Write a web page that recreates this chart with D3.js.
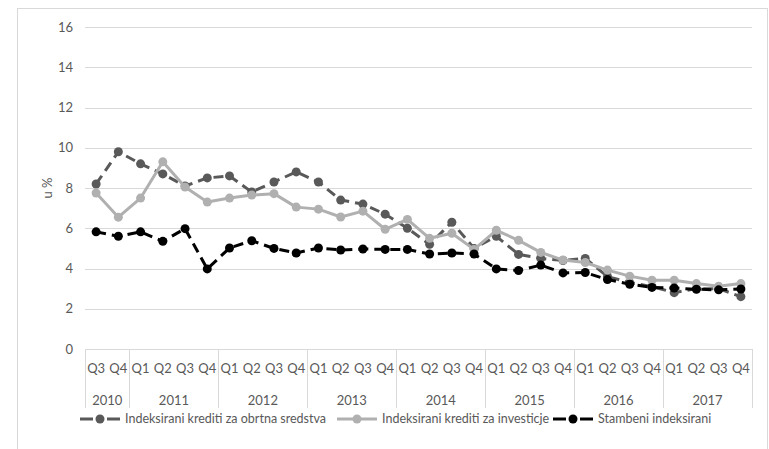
<!DOCTYPE html>
<html>
<head>
<meta charset="utf-8">
<script src="https://cdn.jsdelivr.net/npm/d3@7"></script>
<style>
  body { margin: 0; background: #fff; }
  svg { display: block; font-family: Lato, "Open Sans", sans-serif; }
</style>
</head>
<body>
<div id="chart"></div>
<script>
// quarters 2010 Q3 .. 2017 Q4
var quarters = ["Q3","Q4",
  "Q1","Q2","Q3","Q4", "Q1","Q2","Q3","Q4", "Q1","Q2","Q3","Q4", "Q1","Q2","Q3","Q4",
  "Q1","Q2","Q3","Q4", "Q1","Q2","Q3","Q4", "Q1","Q2","Q3","Q4"];
var years = ["2010","2011","2012","2013","2014","2015","2016","2017"];
var yearCounts = [2,4,4,4,4,4,4,4];

var obrtna = [8.2, 9.8, 9.2, 8.7, 8.1, 8.5, 8.6, 7.8, 8.3, 8.8,
  8.3, 7.4, 7.2, 6.7, 6.0, 5.2, 6.3, 5.0, 5.6, 4.7,
  4.5, 4.4, 4.5, 3.6, 3.3, 3.1, 2.8, 3.0, 3.0, 2.6];
var investicije = [7.75, 6.55, 7.5, 9.3, 8.05, 7.3, 7.5, 7.65, 7.72, 7.05,
  6.95, 6.56, 6.85, 5.95, 6.44, 5.5, 5.75, 4.95, 5.9, 5.4,
  4.8, 4.42, 4.3, 3.92, 3.62, 3.42, 3.42, 3.25, 3.12, 3.25];
var stambeni = [5.82, 5.6, 5.82, 5.35, 5.98, 3.98, 5.02, 5.38, 5.0, 4.77,
  5.02, 4.92, 4.97, 4.95, 4.95, 4.72, 4.77, 4.72, 3.98, 3.9,
  4.17, 3.78, 3.8, 3.45, 3.22, 3.06, 3.03, 2.97, 2.94, 2.98];
var yTicks = [0,2,4,6,8,10,12,14,16];

var series = [
  {name: "Indeksirani krediti za obrtna sredstva", values: obrtna, color: "#595959", dash: "10,6"},
  {name: "Indeksirani krediti za investicje", values: investicije, color: "#b0b0b0", dash: null},
  {name: "Stambeni indeksirani", values: stambeni, color: "#000000", dash: "10,6"}
];

var W = 769, H = 449;
var svg = d3.select("#chart").append("svg").attr("width", W).attr("height", H);

// outer frame
svg.append("rect").attr("x", 17.5).attr("y", 8.5).attr("width", 750).attr("height", 460)
  .attr("fill", "none").attr("stroke", "#d9d9d9");

var x = d3.scaleBand().domain(d3.range(quarters.length)).range([85, 752]);
var y = d3.scaleLinear().domain([0, 16]).range([349, 27]);
var cx = function(i) { return x(i) + x.bandwidth() / 2; };

// gridlines
svg.append("g").selectAll("line").data(yTicks.filter(function(d) { return d > 0; }))
  .enter().append("line")
  .attr("x1", 85).attr("x2", 752)
  .attr("y1", function(d) { return Math.round(y(d)) + 0.5; })
  .attr("y2", function(d) { return Math.round(y(d)) + 0.5; })
  .attr("stroke", "#d9d9d9").attr("stroke-width", 1);

// y axis labels
svg.append("g").selectAll("text").data(yTicks).enter().append("text")
  .attr("x", 73).attr("y", function(d) { return y(d); })
  .attr("dy", "0.35em").attr("text-anchor", "end")
  .attr("font-size", 13).attr("fill", "#595959")
  .text(function(d) { return d; });

svg.append("text")
  .attr("transform", "translate(47," + y(8) + ") rotate(-90)")
  .attr("text-anchor", "middle").attr("dy", "0.35em")
  .attr("font-size", 13).attr("fill", "#595959")
  .text("u %");

// category axis
var axis = svg.append("g");
axis.append("line").attr("x1", 85).attr("x2", 752).attr("y1", 349.5).attr("y2", 349.5)
  .attr("stroke", "#d9d9d9");
var bounds = [0];
yearCounts.forEach(function(c, i) { bounds.push(bounds[i] + c); });
axis.selectAll("line.div").data(bounds).enter().append("line")
  .attr("class", "div")
  .attr("x1", function(b) { return Math.round(b < quarters.length ? x(b) : 752) + 0.5; })
  .attr("x2", function(b) { return Math.round(b < quarters.length ? x(b) : 752) + 0.5; })
  .attr("y1", 349).attr("y2", 408)
  .attr("stroke", "#d9d9d9");
axis.selectAll("text.q").data(quarters).enter().append("text")
  .attr("class", "q")
  .attr("x", function(d, i) { return cx(i); }).attr("y", 368)
  .attr("dy", "0.35em").attr("text-anchor", "middle")
  .attr("font-size", 13).attr("fill", "#595959")
  .text(function(d) { return d; });
axis.selectAll("text.yr").data(years).enter().append("text")
  .attr("class", "yr")
  .attr("x", function(d, i) {
    var a = x(bounds[i]);
    var b = bounds[i + 1] < quarters.length ? x(bounds[i + 1]) : 752;
    return (a + b) / 2;
  })
  .attr("y", 400).attr("dy", "0.35em").attr("text-anchor", "middle")
  .attr("font-size", 13).attr("fill", "#595959")
  .text(function(d) { return d; });

// lines + markers
var line = d3.line()
  .x(function(d, i) { return cx(i); })
  .y(function(d) { return y(d); });

series.forEach(function(s) {
  var g = svg.append("g");
  g.append("path")
    .attr("d", line(s.values))
    .attr("fill", "none")
    .attr("stroke", s.color)
    .attr("stroke-width", 3)
    .attr("stroke-dasharray", s.dash)
    .attr("stroke-linejoin", "round");
  g.selectAll("circle").data(s.values).enter().append("circle")
    .attr("cx", function(d, i) { return cx(i); })
    .attr("cy", function(d) { return y(d); })
    .attr("r", 4.5)
    .attr("fill", s.color);
});

// legend
var legendX = [80, 337, 553];
var leg = svg.append("g");
series.forEach(function(s, i) {
  var lx = legendX[i], ly = 419;
  leg.append("line").attr("x1", lx).attr("x2", lx + 40).attr("y1", ly).attr("y2", ly)
    .attr("stroke", s.color).attr("stroke-width", 3)
    .attr("stroke-dasharray", s.dash ? "13,14" : null);
  leg.append("circle").attr("cx", lx + 20).attr("cy", ly).attr("r", 4.5).attr("fill", s.color);
  leg.append("text").attr("x", lx + 45).attr("y", ly).attr("dy", "0.35em")
    .attr("font-size", 12.5).attr("fill", "#595959")
    .text(s.name);
});
</script>
</body>
</html>
